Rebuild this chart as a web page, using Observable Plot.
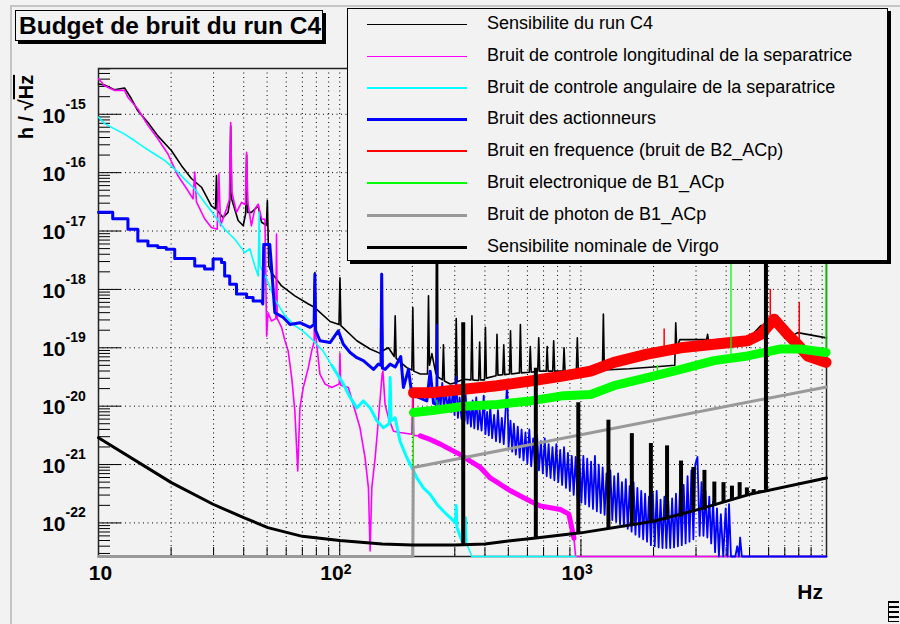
<!DOCTYPE html>
<html><head><meta charset="utf-8">
<script src="https://cdn.jsdelivr.net/npm/d3@7"></script>
<script src="https://cdn.jsdelivr.net/npm/@observablehq/plot@0.6"></script>
<style>
html,body{margin:0;padding:0;background:#f2f2f2;}
#wrap{position:relative;width:900px;height:624px;overflow:hidden;background:#f2f2f2;font-family:"Liberation Sans",Arial,Helvetica,sans-serif;color:#000;}
#wrap svg{position:absolute;left:0;top:0;}
#border{position:absolute;left:10px;top:5px;right:-5px;bottom:-5px;border-left:2px solid #c4c4c4;border-top:2px solid #c4c4c4;}
#title{position:absolute;left:15px;top:10px;width:308px;height:31px;border:1px solid #000;box-shadow:3px 3px 0 #000;background:#f2f2f2;font-weight:bold;font-size:24.5px;line-height:30px;padding-left:3px;box-sizing:border-box;white-space:nowrap;}
#legend{position:absolute;left:347px;top:8px;width:541px;height:253px;border:1px solid #000;box-shadow:3px 3px 0 #000;background:#f2f2f2;box-sizing:border-box;}
.item{position:absolute;left:0;height:0;width:100%;}
.item .sw{position:absolute;left:19px;width:100px;}
.item .lb{position:absolute;left:139px;top:-12px;font-size:18px;line-height:22px;white-space:nowrap;}
#ylab{position:absolute;left:-24px;top:95px;width:100px;height:24px;line-height:24px;text-align:center;transform:rotate(-90deg);font-weight:bold;font-size:20px;white-space:nowrap;}
#xlab{position:absolute;left:773px;top:580px;width:50px;text-align:right;font-weight:bold;font-size:21px;line-height:24px;}
#icon{position:absolute;left:888px;top:601px;width:10px;height:21px;border-left:1px solid #000;background:repeating-linear-gradient(#000 0 2px,#f2f2f2 2px 5px);}
</style></head>
<body><div id="wrap"><div id="border"></div></div>
<script>
// ---- tick labels ----
const xTickHz = [10, 100, 1000];
const xTickBase = ["10", "10", "10"];
const xTickExp = ["", "2", "3"];
const yTickExp = [-15, -16, -17, -18, -19, -20, -21, -22];

// ---- legend ----
const seriesNames = [
  "Sensibilite du run C4",
  "Bruit de controle longitudinal de la separatrice",
  "Bruit de controle angulaire de la separatrice",
  "Bruit des actionneurs",
  "Bruit en frequence (bruit de B2_ACp)",
  "Bruit electronique de B1_ACp",
  "Bruit de photon de B1_ACp",
  "Sensibilite nominale de Virgo"
];
const seriesColors = ["#000000", "#ff00ff", "#00ffff", "#0000ff", "#ff0000", "#00ff00", "#999999", "#000000"];
const legendWidths = [1, 1, 2, 3, 2, 2, 3, 3];

// ---- data: [log10(Hz), log10(h / sqrt(Hz))] ----
const c4 = [
[1.000,-14.48],[1.025,-14.50],[1.066,-14.58],[1.108,-14.55],[1.136,-14.73],[1.163,-14.94],[1.205,-15.14],[1.246,-15.37],
[1.302,-15.62],[1.344,-15.88],[1.385,-16.10],[1.427,-16.25],[1.468,-16.57],[1.485,-16.62],[1.489,-16.05],[1.493,-16.65],
[1.516,-16.77],[1.537,-16.68],[1.544,-16.50],[1.548,-15.20],[1.552,-16.45],[1.579,-16.82],[1.600,-16.91],[1.610,-16.70],
[1.614,-15.70],[1.618,-16.68],[1.634,-16.68],[1.662,-16.57],[1.676,-16.85],[1.696,-16.90],[1.700,-16.48],[1.706,-17.60],
[1.717,-17.71],[1.759,-17.94],[1.814,-18.11],[1.870,-18.25],[1.893,-18.30],[1.897,-17.71],[1.901,-18.33],[1.960,-18.55],
[1.997,-18.60],[2.001,-17.80],[2.005,-18.62],[2.071,-18.88],[2.126,-19.02],[2.170,-19.10],[2.174,-17.73],[2.178,-19.05],
[2.202,-19.00],[2.226,-19.15],[2.230,-18.45],[2.234,-19.18],[2.278,-19.34],[2.299,-19.38],[2.303,-18.31],[2.307,-19.40],
[2.334,-19.45],[2.364,-19.45],[2.368,-18.11],[2.372,-19.30],[2.382,-19.10],[2.399,-19.45],[2.403,-14.00],[2.407,-19.50],
[2.426,-19.55],[2.430,-18.95],[2.434,-19.57],[2.458,-19.62],[2.479,-19.60],[2.483,-18.50],[2.487,-19.58],[2.514,-19.54],
[2.544,-19.55],[2.548,-18.45],[2.552,-19.55],[2.576,-19.56],[2.580,-18.90],[2.584,-19.55],[2.600,-19.55],[2.604,-18.65],
[2.608,-19.52],[2.648,-19.48],[2.652,-18.77],[2.656,-19.47],[2.676,-19.46],[2.680,-18.95],[2.684,-19.46],[2.704,-19.45],
[2.708,-18.71],[2.712,-19.45],[2.745,-19.43],[2.749,-18.60],[2.753,-19.43],[2.786,-19.42],[2.790,-18.98],[2.794,-19.42],
[2.821,-19.40],[2.825,-18.83],[2.829,-19.40],[2.856,-19.40],[2.860,-18.98],[2.864,-19.40],[2.883,-19.40],[2.887,-18.88],
[2.891,-19.40],[2.926,-19.40],[2.930,-19.00],[2.934,-19.40],[2.981,-19.38],[2.985,-18.83],[2.989,-19.36],[3.089,-19.38],
[3.093,-18.42],[3.097,-19.38],[3.200,-19.36],[3.300,-19.33],[3.389,-19.30],[3.393,-18.57],[3.397,-19.00],[3.410,-18.86],
[3.500,-18.86],[3.521,-18.86],[3.525,-18.77],[3.529,-18.87],[3.600,-18.85],[3.700,-18.82],[3.746,-18.62],[3.815,-18.60],
[3.857,-18.85],[3.898,-18.74],[4.020,-18.83]
];
const longitudinal = [
[1.000,-14.39],[1.025,-14.51],[1.066,-14.59],[1.108,-14.59],[1.122,-14.71],[1.163,-14.91],[1.205,-15.19],[1.246,-15.42],
[1.288,-15.68],[1.329,-16.05],[1.371,-16.31],[1.392,-16.45],[1.399,-15.99],[1.406,-16.50],[1.440,-16.79],[1.468,-16.94],
[1.492,-16.97],[1.499,-16.02],[1.506,-16.91],[1.531,-16.62],[1.543,-16.45],[1.548,-15.14],[1.553,-16.34],[1.572,-16.68],
[1.593,-16.51],[1.609,-16.55],[1.614,-15.65],[1.619,-16.51],[1.634,-16.91],[1.648,-16.62],[1.662,-16.54],[1.676,-16.79],
[1.690,-16.80],[1.697,-18.80],[1.703,-18.40],[1.717,-18.54],[1.735,-18.50],[1.738,-17.05],[1.741,-18.50],[1.759,-18.65],
[1.773,-18.88],[1.786,-19.05],[1.801,-19.51],[1.814,-20.08],[1.826,-21.11],[1.835,-20.03],[1.849,-19.68],[1.870,-19.34],
[1.884,-19.05],[1.894,-18.90],[1.897,-17.77],[1.900,-18.77],[1.918,-19.45],[1.939,-19.62],[1.967,-19.68],[1.998,-19.62],
[2.001,-19.10],[2.004,-19.64],[2.036,-19.68],[2.056,-19.97],[2.084,-20.37],[2.105,-20.88],[2.119,-21.40],[2.126,-22.48],
[2.133,-21.40],[2.147,-20.88],[2.160,-20.25],[2.176,-19.45],[2.179,-19.40],[2.188,-19.97],[2.202,-20.20],[2.223,-20.43],
[2.250,-20.45],[2.299,-20.48],[2.303,-19.71],[2.307,-20.50],[2.334,-20.51],[2.375,-20.57],[2.417,-20.65],[2.458,-20.74],
[2.500,-20.83],[2.541,-20.94],[2.583,-21.05],[2.624,-21.23],[2.666,-21.34],[2.708,-21.45],[2.749,-21.54],[2.791,-21.63],
[2.832,-21.71],[2.874,-21.74],[2.915,-21.77],[2.950,-21.85],[2.971,-22.26],[2.978,-23.00],[4.020,-23.00]
];
const angular = [
[1.000,-15.05],[1.025,-15.16],[1.066,-15.25],[1.108,-15.34],[1.149,-15.45],[1.191,-15.57],[1.232,-15.68],[1.274,-15.79],
[1.316,-15.94],[1.357,-16.11],[1.399,-16.28],[1.440,-16.51],[1.482,-16.74],[1.523,-16.97],[1.565,-17.14],[1.607,-17.37],
[1.627,-17.30],[1.648,-17.60],[1.662,-17.77],[1.666,-16.68],[1.670,-17.60],[1.697,-17.82],[1.731,-18.17],[1.773,-18.45],
[1.814,-18.62],[1.849,-18.72],[1.884,-18.85],[1.932,-19.06],[1.967,-19.30],[2.015,-19.62],[2.043,-19.85],[2.071,-20.03],
[2.098,-19.91],[2.126,-20.03],[2.154,-20.25],[2.181,-20.37],[2.205,-20.30],[2.209,-19.51],[2.213,-20.25],[2.230,-20.20],
[2.250,-20.60],[2.278,-20.88],[2.299,-21.05],[2.320,-21.23],[2.347,-21.40],[2.375,-21.51],[2.403,-21.68],[2.430,-21.80],
[2.458,-21.91],[2.480,-22.00],[2.483,-21.70],[2.486,-22.08],[2.507,-22.31],[2.518,-22.30],[2.521,-21.91],[2.524,-22.35],
[2.534,-22.43],[2.548,-23.00],[2.980,-23.00]
];
const actuators = [
[1.000,-16.68],[1.059,-16.68],[1.059,-16.79],[1.122,-16.79],[1.122,-16.97],[1.163,-16.97],[1.163,-17.17],[1.205,-17.17],
[1.205,-17.25],[1.246,-17.25],[1.246,-17.28],[1.281,-17.28],[1.281,-17.31],[1.316,-17.31],[1.316,-17.47],[1.399,-17.47],
[1.399,-17.60],[1.440,-17.60],[1.440,-17.65],[1.475,-17.65],[1.475,-17.48],[1.510,-17.48],[1.510,-17.54],[1.523,-17.54],
[1.523,-17.77],[1.544,-17.77],[1.544,-17.91],[1.572,-17.91],[1.572,-18.08],[1.614,-18.08],[1.614,-18.14],[1.641,-18.14],
[1.641,-18.20],[1.676,-18.20],[1.681,-18.25],[1.685,-17.23],[1.710,-17.23],[1.717,-17.60],[1.731,-18.40],[1.766,-18.48],
[1.794,-18.60],[1.835,-18.57],[1.877,-18.65],[1.894,-18.60],[1.897,-17.74],[1.900,-18.70],[1.918,-18.88],[1.960,-18.91],
[1.994,-18.71],[2.015,-18.94],[2.043,-19.08],[2.071,-19.17],[2.098,-19.22],[2.140,-19.37],[2.160,-19.28],[2.171,-19.30],
[2.174,-17.74],[2.177,-19.35],[2.188,-19.37],[2.209,-19.28],[2.230,-19.33],[2.253,-19.15],[2.264,-19.68],[2.285,-19.37],
[2.299,-19.80],[2.327,-19.85],[2.361,-19.91],[2.375,-19.40],[2.389,-19.95],[2.400,-19.97],
[2.403,-18.60],[2.406,-20.00],[2.412,-19.70],[2.418,-20.03],[2.425,-19.60],[2.432,-20.05],[2.440,-19.75],[2.448,-20.06],
[2.455,-19.80],[2.462,-20.10],[2.470,-19.65],[2.476,-20.15],[2.483,-19.50],[2.490,-20.20],[2.497,-19.85],[2.505,-20.22],
[2.512,-19.80],[2.518,-20.25],[2.521,-19.75],[2.530,-20.30],[2.537,-19.95],[2.544,-20.35],[2.551,-19.90],[2.558,-20.38],
[2.566,-19.85],[2.573,-20.40],[2.580,-20.05],[2.588,-20.42],[2.597,-19.82],[2.604,-20.48],[2.611,-20.10],[2.618,-20.50],
[2.624,-20.00],[2.632,-20.55],[2.640,-20.15],[2.648,-20.60],[2.656,-20.07],[2.664,-20.62],[2.672,-20.20],[2.680,-20.65],
[2.694,-19.60],[2.700,-20.70],[2.708,-20.25],[2.715,-20.78],[2.722,-20.30],[2.730,-20.83],[2.738,-20.35],[2.746,-20.88],
[2.754,-20.40],[2.762,-20.93],[2.770,-20.45],[2.778,-20.98],[2.786,-20.40],[2.794,-21.03],[2.802,-20.55],[2.810,-21.07],
[2.818,-20.50],[2.826,-21.10],[2.834,-20.60],[2.842,-21.15],[2.850,-20.55],[2.858,-21.20],[2.866,-20.65],[2.874,-21.23],
[2.882,-20.70],[2.890,-21.27],[2.898,-20.65],[2.906,-21.30],[2.914,-20.75],[2.922,-21.35],[2.930,-20.70],[2.938,-21.40],
[2.946,-20.80],[2.954,-21.45],[2.962,-20.85],[2.970,-21.52],[2.978,-20.87],[2.986,-21.58],[2.994,-20.90],[3.002,-21.65],
[3.010,-20.85],[3.018,-21.68],[3.026,-20.90],[3.034,-21.72],[3.042,-20.95],[3.050,-21.76],[3.058,-20.85],[3.066,-21.80],
[3.074,-21.00],[3.082,-21.83],[3.090,-21.05],[3.098,-21.86],[3.106,-21.15],[3.114,-21.90],[3.122,-21.10],[3.130,-21.95],
[3.138,-21.20],[3.146,-21.98],[3.154,-21.15],[3.162,-22.02],[3.170,-21.30],[3.178,-22.06],[3.186,-21.25],[3.194,-22.10],
[3.202,-21.37],[3.210,-22.15],[3.218,-21.30],[3.226,-22.20],[3.234,-21.40],[3.242,-22.24],[3.250,-21.45],[3.258,-22.28],
[3.266,-21.50],[3.274,-22.32],[3.282,-21.55],[3.290,-22.38],[3.298,-21.48],[3.306,-22.40],[3.314,-21.45],[3.322,-22.42],
[3.330,-21.60],[3.338,-22.43],[3.346,-21.55],[3.354,-22.43],[3.362,-21.63],[3.370,-22.43],[3.378,-21.58],[3.386,-22.42],
[3.394,-21.50],[3.402,-22.40],[3.410,-21.45],[3.418,-22.38],[3.426,-21.35],[3.434,-22.35],[3.442,-21.20],[3.450,-22.32],
[3.458,-21.10],[3.466,-22.28],[3.474,-21.00],[3.483,-20.87],[3.492,-22.22],[3.500,-21.30],[3.508,-22.22],[3.516,-21.45],
[3.524,-22.25],[3.532,-21.55],[3.540,-22.35],[3.548,-21.63],[3.556,-22.50],[3.564,-21.75],[3.572,-22.58],[3.580,-21.85],
[3.590,-22.60],[3.600,-21.75],[3.608,-22.62],[3.614,-21.68],[3.622,-23.00],[3.640,-23.00],[3.648,-22.40],[3.655,-23.00],
[3.660,-22.25],[3.667,-23.00],[4.020,-23.00]
];
const frequency = [
[1.000,-23.00],[2.303,-23.00],[2.306,-19.77],[2.375,-19.77],[2.514,-19.71],[2.652,-19.65],[2.791,-19.57],[2.929,-19.48],
[3.040,-19.40],[3.137,-19.25],[3.275,-19.11],[3.414,-19.00],[3.552,-18.94],[3.691,-18.88],[3.746,-18.77],[3.801,-18.51],
[3.857,-18.77],[3.898,-18.94],[3.940,-19.14],[4.016,-19.25]
];
const frequencySpikes = [[3.345,-19.06,-18.68],[3.785,-18.60,-18.00],[3.905,-18.92,-18.22]];
const electronic = [
[1.000,-23.00],[2.303,-23.00],[2.306,-20.11],[2.375,-20.08],[2.514,-20.00],[2.652,-19.97],[2.791,-19.91],[2.929,-19.82],
[3.040,-19.80],[3.137,-19.65],[3.275,-19.51],[3.414,-19.37],[3.552,-19.22],[3.691,-19.14],[3.829,-19.02],[3.912,-19.02],
[4.016,-19.08]
];
const electronicSpikes = [[2.403,-20.06,-19.90],[3.317,-19.47,-19.30],[3.622,-19.18,-14.0],[4.016,-19.08,-14.0]];
const photon = [[1.000,-23.00],[2.303,-23.00],[2.305,-21.05],[3.000,-20.49],[4.020,-19.67]];
const nominal = [
[1.000,-20.54],[1.302,-21.31],[1.475,-21.68],[1.602,-21.91],[1.702,-22.08],[1.845,-22.23],[2.000,-22.30],[2.176,-22.36],
[2.301,-22.38],[2.477,-22.38],[2.602,-22.36],[2.699,-22.31],[2.813,-22.26],[3.000,-22.17],[3.301,-21.97],[3.477,-21.78],
[3.699,-21.51],[4.020,-21.23]
];
const nominalSpikes = [
[2.512,-22.38,-18.57],[2.813,-22.27,-19.35],[2.989,-22.18,-19.94],[3.114,-22.10,-20.24],[3.211,-22.05,-20.47],
[3.290,-22.00,-20.64],[3.357,-21.95,-20.68],[3.415,-21.90,-20.94],[3.466,-21.82,-21.05],[3.512,-21.78,-21.10],
[3.553,-21.72,-21.30],[3.591,-21.66,-21.31],[3.626,-21.62,-21.37],[3.658,-21.58,-21.31],[3.688,-21.54,-21.40],
[3.716,-21.51,-21.43],[3.742,-21.48,-21.45],[3.767,-21.46,-14.0]
];

// ---- helpers ----
const P = a => a.map(([lf, lh]) => ({f: 10 ** lf, h: 10 ** lh}));
const S = a => a.map(([lf, lb, lt]) => ({f: 10 ** lf, b: 10 ** lb, t: 10 ** lt}));
const xMin = 10, xMax = 10 ** 4.018, yMin = 10 ** -22.575, yMax = 10 ** -14.216;
const xMinor = [], xGrid = [];
for (let e = 1; e <= 3; e++) for (let m = 1; m <= 9; m++) { const v = m * 10 ** e; if (v > xMin && v < xMax) { xGrid.push(v); if (m > 1) xMinor.push(v); } }
if (1e4 < xMax) xGrid.push(1e4);
const yMinor = [];
for (let e = -23; e <= -15; e++) for (let m = 2; m <= 9; m++) { const v = m * 10 ** e; if (v > yMin && v < yMax) yMinor.push(v); }
const yMajor = yTickExp.map(e => 10 ** e);
const xMajor = [100, 1000];
const font = "Liberation Sans, Arial, Helvetica, sans-serif";
const FH = 488, FW = 728;
const blue = P(actuators);

const chart = Plot.plot({
  width: 900, height: 624,
  marginLeft: 98, marginRight: 74, marginTop: 68, marginBottom: 68,
  style: {background: "transparent", fontFamily: font, overflow: "visible"},
  x: {type: "log", domain: [xMin, xMax], clamp: true, axis: null},
  y: {type: "log", domain: [yMin, yMax], clamp: true, axis: null},
  marks: [
    Plot.ruleX(xGrid, {x: d => d, stroke: "#000", strokeWidth: 1, strokeDasharray: "1,3.5"}),
    Plot.ruleY(yMajor, {y: d => d, stroke: "#000", strokeWidth: 1, strokeDasharray: "1,3.5"}),
    Plot.tickX(xMinor, {x: d => d, insetTop: FH - 9, stroke: "#000", strokeWidth: 1}),
    Plot.tickX(xMajor, {x: d => d, insetTop: FH - 17, stroke: "#000", strokeWidth: 1}),
    Plot.tickY(yMinor, {y: d => d, insetRight: FW - 12, stroke: "#000", strokeWidth: 1}),
    Plot.tickY(yMajor, {y: d => d, insetRight: FW - 23, stroke: "#000", strokeWidth: 1}),
    Plot.frame({stroke: "#222", strokeWidth: 1.5}),
    // data
    Plot.line(P(c4), {x: "f", y: "h", stroke: seriesColors[0], strokeWidth: 1.6}),
    Plot.line(P(longitudinal), {x: "f", y: "h", stroke: seriesColors[1], strokeWidth: 1.6}),
    Plot.line(P(longitudinal).filter(d => d.f > 205 && d.f < 940), {x: "f", y: "h", stroke: seriesColors[1], strokeWidth: 5}),
    Plot.line(P(angular), {x: "f", y: "h", stroke: seriesColors[2], strokeWidth: 1.6}),
    Plot.line(P(angular).filter(d => d.f > 90 && d.f < 340), {x: "f", y: "h", stroke: seriesColors[2], strokeWidth: 3}),
    Plot.line(blue.filter(d => d.f <= 252), {x: "f", y: "h", stroke: seriesColors[3], strokeWidth: 3}),
    Plot.line(blue.filter(d => d.f >= 251), {x: "f", y: "h", stroke: seriesColors[3], strokeWidth: 1.8}),
    Plot.line(P(frequency), {x: "f", y: "h", stroke: seriesColors[4], strokeWidth: 1}),
    Plot.line(P(frequency).filter(d => d.f > 201), {x: "f", y: "h", stroke: seriesColors[4], strokeWidth: 11}),
    Plot.ruleX(S(frequencySpikes), {x: "f", y1: "b", y2: "t", stroke: seriesColors[4], strokeWidth: 1.5}),
    Plot.line(P(electronic), {x: "f", y: "h", stroke: seriesColors[5], strokeWidth: 1.2}),
    Plot.line(P(electronic).filter(d => d.f > 201), {x: "f", y: "h", stroke: seriesColors[5], strokeWidth: 9}),
    Plot.ruleX(S(electronicSpikes), {x: "f", y1: "b", y2: "t", stroke: seriesColors[5], strokeWidth: 1.3}),
    Plot.line(P(photon), {x: "f", y: "h", stroke: seriesColors[6], strokeWidth: 3}),
    Plot.line(P(nominal), {x: "f", y: "h", stroke: seriesColors[7], strokeWidth: 3}),
    Plot.ruleX(S(nominalSpikes), {x: "f", y1: "b", y2: "t", stroke: seriesColors[7], strokeWidth: 4}),
    // tick labels
    Plot.text(yMajor, {y: d => d, frameAnchor: "left", text: () => "10", textAnchor: "end", dx: -33, dy: 1.5, fontSize: 21, fontWeight: "bold", fontFamily: font, fill: "#000"}),
    Plot.text(yTickExp, {y: d => 10 ** d, frameAnchor: "left", text: d => "-" + Math.abs(d), textAnchor: "start", dx: -33, dy: -10, fontSize: 14, fontWeight: "bold", fontFamily: font, fill: "#000"}),
    Plot.text([0], {x: () => xTickHz[0], frameAnchor: "bottom", text: () => xTickBase[0], textAnchor: "middle", dx: 2, dy: 23.5, fontSize: 21, fontWeight: "bold", fontFamily: font, fill: "#000"}),
    Plot.text([1, 2], {x: i => xTickHz[i], frameAnchor: "bottom", text: i => xTickBase[i], textAnchor: "end", dx: 4, dy: 23.5, fontSize: 21, fontWeight: "bold", fontFamily: font, fill: "#000"}),
    Plot.text([1, 2], {x: i => xTickHz[i], frameAnchor: "bottom", text: i => xTickExp[i], textAnchor: "start", dx: 4, dy: 17, fontSize: 14, fontWeight: "bold", fontFamily: font, fill: "#000"})
  ]
});
const wrap = document.getElementById("wrap");
wrap.appendChild(chart);

// overlays: title, legend, axis titles
const title = document.createElement("div");
title.id = "title"; title.textContent = "Budget de bruit du run C4";
wrap.appendChild(title);

const legend = document.createElement("div");
legend.id = "legend";
seriesNames.forEach((name, i) => {
  const it = document.createElement("div");
  it.className = "item";
  it.style.top = Math.round(15 + i * 31.8) + "px";
  const sw = document.createElement("div");
  sw.className = "sw";
  sw.style.height = legendWidths[i] + "px";
  sw.style.top = (-Math.floor(legendWidths[i] / 2)) + "px";
  sw.style.backgroundColor = seriesColors[i];
  const lb = document.createElement("div");
  lb.className = "lb"; lb.textContent = name;
  it.appendChild(sw); it.appendChild(lb);
  legend.appendChild(it);
});
wrap.appendChild(legend);

const ylab = document.createElement("div");
ylab.id = "ylab";
ylab.innerHTML = 'h / \u221A<span style="text-decoration:overline">Hz</span>';
wrap.appendChild(ylab);

const xlab = document.createElement("div");
xlab.id = "xlab"; xlab.textContent = "Hz";
wrap.appendChild(xlab);

const icon = document.createElement("div");
icon.id = "icon";
wrap.appendChild(icon);
</script>
</body></html>
